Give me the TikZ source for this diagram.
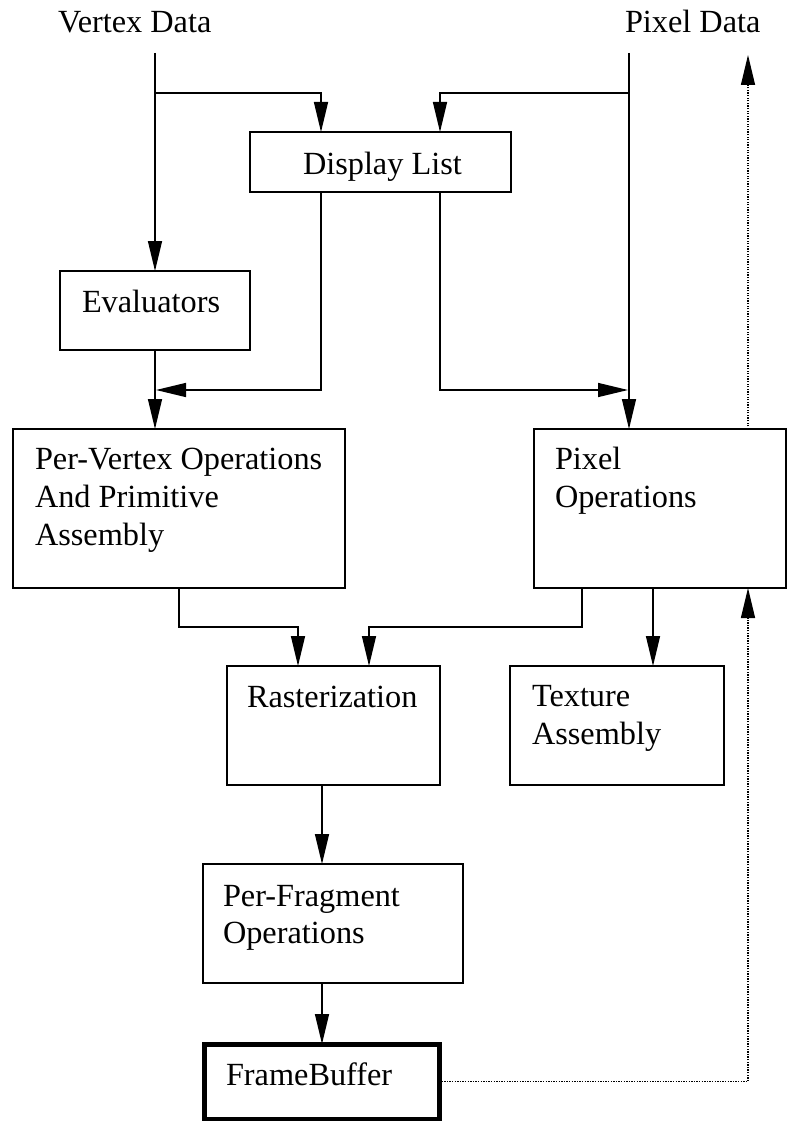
\documentclass[tikz,border=0pt]{standalone}
\usepackage{fontspec}
\setmainfont{Liberation Serif}
\usetikzlibrary{arrows.meta}
\begin{document}
\begin{tikzpicture}[x=1pt,y=-1pt,
  box/.style={draw,line width=1.5pt,inner sep=0pt,outer sep=0pt,anchor=north west},
  lbl/.style={inner sep=0pt,outer sep=0pt,anchor=base west,font=\fontsize{32.3}{38}\selectfont},
  conn/.style={line width=1.5pt},
  arr/.style={line width=1.5pt,-{Triangle[length=30pt,width=14pt]}},
  dotarr/.style={line width=1.3pt,dash pattern=on 1.3pt off 1.3pt,-{Triangle[length=30pt,width=14pt]}},
  dotl/.style={line width=1.3pt,dash pattern=on 1.3pt off 1.3pt}]
\useasboundingbox (0,0) rectangle (788,1121);
% boxes
\node[box,minimum width=261pt,minimum height=60pt] (dl) at (250,132) {};
\node[box,minimum width=190pt,minimum height=79pt] (ev) at (60,271) {};
\node[box,minimum width=332pt,minimum height=159pt] (pv) at (13,429) {};
\node[box,minimum width=252pt,minimum height=159pt] (po) at (534,429) {};
\node[box,minimum width=213pt,minimum height=119pt] (ra) at (227,666) {};
\node[box,minimum width=214pt,minimum height=119pt] (ta) at (510,666) {};
\node[box,minimum width=260pt,minimum height=119pt] (pf) at (203,864) {};
\node[box,line width=5pt,minimum width=235pt,minimum height=75pt] (fb) at (204,1044) {};
% labels
\node[lbl] (vd) at (58,33) {Vertex Data};
\node[lbl] (pd) at (625,33) {Pixel Data};
\node[lbl] (dlt) at (303,174) {Display List};
\node[lbl] (evt) at (82,312) {Evaluators};
\node[lbl] (pvt1) at (35,469) {Per-Vertex Operations};
\node[lbl] (pvt2) at (35,507) {And Primitive};
\node[lbl] (pvt3) at (35,545) {Assembly};
\node[lbl] (pot1) at (555,469) {Pixel};
\node[lbl] (pot2) at (555,507) {Operations};
\node[lbl] (rat) at (247,707) {Rasterization};
\node[lbl] (tat1) at (532,706) {Texture};
\node[lbl] (tat2) at (532,744) {Assembly};
\node[lbl] (pft1) at (223,906) {Per-Fragment};
\node[lbl] (pft2) at (223,943) {Operations};
\node[lbl] (fbt) at (226,1085) {FrameBuffer};
% coordinates
\coordinate (vtop) at (155,53);
\coordinate (ptop) at (629,53);
\coordinate (vb) at (155,93);
\coordinate (pb) at (629,93);
\coordinate (dtop) at (748,55);
% connectors
\draw[arr] (vtop) -- (ev.north);
\draw[arr] (vb) -| ([xshift=71pt]dl.north west);
\draw[arr] (ptop) -- ([xshift=95pt]po.north west);
\draw[arr] (pb) -| ([xshift=190pt]dl.north west);
\draw[arr] ([xshift=71pt]dl.south west) |- (156,390);
\draw[arr] ([xshift=190pt]dl.south west) |- (628,390);
\draw[arr] (ev.south) -- ([xshift=142pt]pv.north west);
\draw[arr] ([xshift=166pt]pv.south west) |- (298,627) -- ([xshift=71pt]ra.north west);
\draw[arr] ([xshift=48pt]po.south west) |- (369,627) -- ([xshift=142pt]ra.north west);
\draw[arr] ([xshift=119pt]po.south west) -- ([xshift=143pt]ta.north west);
\draw[arr] ([xshift=95pt]ra.south west) -- ([xshift=118pt]fb.north west |- pf.north);
\draw[arr] ([xshift=118pt]fb.north west |- pf.south) -- ([xshift=118pt]fb.north west);
\draw[dotarr] (fb.east) -| ([xshift=214pt]po.south west);
\draw[dotarr] ([xshift=214pt]po.north west) -- (dtop);
\end{tikzpicture}
\end{document}
